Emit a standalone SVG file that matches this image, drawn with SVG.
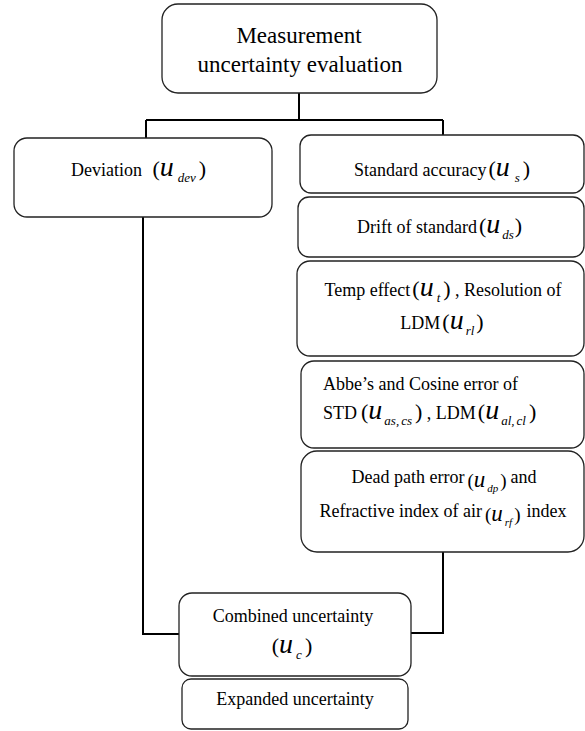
<svg xmlns="http://www.w3.org/2000/svg" width="585" height="731" viewBox="0 0 585 731">
<style>
.box{fill:#fff;stroke:#222;stroke-width:1.3}
.conn{fill:none;stroke:#000;stroke-width:2}
text, tspan{font-family:'Liberation Serif',serif !important}
.t{font-size:18px}
.title{font-size:23px}
.p{font-size:22px;font-style:normal}
.u{font-size:28px;font-style:italic}
.s{font-size:13px;font-style:italic}
.ps{font-size:19px;font-style:normal}
.us{font-size:23px;font-style:italic}
.ss{font-size:11px;font-style:italic}
</style>
<rect width="585" height="731" fill="#fff"/>
<g id="connectors">
<path class="conn" d="M299,93 V120 M146,120 H443 M146,120 V138 M443,120 V135"/>
<path class="conn" d="M143,217 V634 H179"/>
<path class="conn" d="M443,552 V633 H411"/>
</g>
<g id="root">
<rect class="box" x="162" y="4" width="275" height="89" rx="16"/>
<text class="title" style="font-family:'Liberation Serif',serif" x="299" y="43" text-anchor="middle">Measurement</text>
<text class="title" style="font-family:'Liberation Serif',serif" x="300" y="72" text-anchor="middle">uncertainty evaluation</text>
</g>
<g id="deviation">
<rect class="box" x="14" y="138" width="258" height="79" rx="13"/>
<text class="t" style="font-family:'Liberation Serif',serif" x="71" y="176">Deviation <tspan class="p" dx="6">(</tspan><tspan class="u">u</tspan><tspan class="s" dx="4" dy="6">dev</tspan><tspan class="p" dx="3" dy="-6">)</tspan></text>
</g>
<g id="standard">
<rect class="box" x="300" y="135" width="284" height="58" rx="11"/>
<text class="t" style="font-family:'Liberation Serif',serif" x="354" y="176">Standard accuracy<tspan class="p" dx="2">(</tspan><tspan class="u">u</tspan><tspan class="s" dx="5" dy="6">s</tspan><tspan class="p" dx="3" dy="-6">)</tspan></text>
</g>
<g id="drift">
<rect class="box" x="298" y="197" width="286" height="60" rx="11"/>
<text class="t" style="font-family:'Liberation Serif',serif" x="357" y="233">Drift of standard<tspan class="p" dx="2">(</tspan><tspan class="u">u</tspan><tspan class="s" dx="2" dy="6">ds</tspan><tspan class="p" dx="1" dy="-6">)</tspan></text>
</g>
<g id="temp">
<rect class="box" x="297" y="261" width="287" height="95" rx="13"/>
<text class="t" style="font-family:'Liberation Serif',serif" x="443" y="296" text-anchor="middle">Temp effect<tspan class="p" dx="2">(</tspan><tspan class="u">u</tspan><tspan class="s" dx="3" dy="6">t</tspan><tspan class="p" dx="3" dy="-6">)</tspan> , Resolution of</text>
<text class="t" style="font-family:'Liberation Serif',serif" x="442" y="329" text-anchor="middle">LDM<tspan class="p" dx="2">(</tspan><tspan class="u">u</tspan><tspan class="s" dx="2" dy="6">rl</tspan><tspan class="p" dx="2" dy="-6">)</tspan></text>
</g>
<g id="abbe">
<rect class="box" x="301" y="361" width="283" height="87" rx="13"/>
<text class="t" style="font-family:'Liberation Serif',serif" x="323" y="390">Abbe’s and Cosine error of</text>
<text class="t" style="font-family:'Liberation Serif',serif" x="323" y="419">STD<tspan class="p" dx="4">(</tspan><tspan class="u">u</tspan><tspan class="s" dx="2" dy="6">as</tspan><tspan class="s">,</tspan><tspan class="s" dx="2">cs</tspan><tspan class="p" dx="3" dy="-6">)</tspan> , LDM<tspan class="p" dx="2">(</tspan><tspan class="u">u</tspan><tspan class="s" dx="2" dy="6">al</tspan><tspan class="s">,</tspan><tspan class="s" dx="2">cl</tspan><tspan class="p" dx="3" dy="-6">)</tspan></text>
</g>
<g id="deadpath">
<rect class="box" x="301" y="451" width="283" height="101" rx="16"/>
<text class="t" style="font-family:'Liberation Serif',serif" x="444" y="483" text-anchor="middle">Dead path error<tspan class="ps" dx="3" dy="4">(</tspan><tspan class="us">u</tspan><tspan class="ss" dx="2" dy="5">dp</tspan><tspan class="ps" dx="2" dy="-5">)</tspan><tspan dx="4" dy="-4">and</tspan></text>
<text class="t" style="font-family:'Liberation Serif',serif" x="443" y="517" text-anchor="middle">Refractive index of air<tspan class="ps" dx="3" dy="4">(</tspan><tspan class="us">u</tspan><tspan class="ss" dx="2" dy="5">rf</tspan><tspan class="ps" dx="2" dy="-5">)</tspan><tspan dx="6" dy="-4">index</tspan></text>
</g>
<g id="combined">
<rect class="box" x="179" y="593" width="232" height="83" rx="13"/>
<text class="t" style="font-family:'Liberation Serif',serif" x="293" y="622" text-anchor="middle">Combined uncertainty</text>
<text class="t" style="font-family:'Liberation Serif',serif" x="292" y="653" text-anchor="middle"><tspan class="p">(</tspan><tspan class="u">u</tspan><tspan class="s" dx="3" dy="6">c</tspan><tspan class="p" dx="3" dy="-6">)</tspan></text>
</g>
<g id="expanded">
<rect class="box" x="182" y="679" width="226" height="50" rx="9"/>
<text class="t" style="font-family:'Liberation Serif',serif" x="295" y="705" text-anchor="middle">Expanded uncertainty</text>
</g>
</svg>
